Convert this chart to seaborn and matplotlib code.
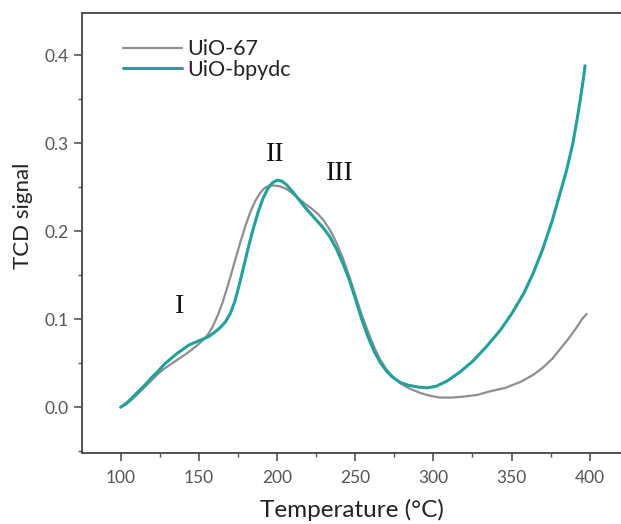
import matplotlib
matplotlib.use("Agg")
import matplotlib.pyplot as plt
import seaborn as sns
import pandas as pd
from matplotlib.ticker import MultipleLocator
from matplotlib.lines import Line2D

# Data
t_uio67 = [100, 104, 108, 112, 116, 120, 124, 128, 133, 138, 143, 148, 152, 156, 159, 162, 165, 168, 171, 174, 177, 180, 183, 186, 189, 192, 195, 198, 202, 206, 210, 214, 218, 222, 226, 230, 234, 238, 242, 246, 250, 254, 258, 262, 266, 270, 274, 279, 285, 292, 298, 304, 312, 319, 328, 336, 346, 356, 364, 370, 376, 381, 386, 391, 395, 398]
y_uio67 = [0.000, 0.004, 0.010, 0.017, 0.024, 0.031, 0.038, 0.044, 0.050, 0.056, 0.062, 0.069, 0.075, 0.083, 0.092, 0.104, 0.118, 0.135, 0.153, 0.172, 0.190, 0.207, 0.222, 0.234, 0.243, 0.249, 0.252, 0.252, 0.251, 0.248, 0.243, 0.237, 0.231, 0.226, 0.220, 0.212, 0.201, 0.187, 0.170, 0.150, 0.128, 0.106, 0.087, 0.069, 0.054, 0.043, 0.035, 0.027, 0.021, 0.016, 0.013, 0.011, 0.011, 0.012, 0.014, 0.018, 0.022, 0.029, 0.037, 0.045, 0.055, 0.066, 0.077, 0.089, 0.100, 0.106]
t_bpydc = [100, 104, 108, 112, 116, 120, 124, 128, 132, 136, 140, 144, 148, 152, 156, 160, 164, 167, 170, 173, 176, 179, 182, 185, 188, 191, 194, 197, 200, 203, 206, 210, 214, 218, 222, 226, 230, 234, 238, 242, 246, 250, 254, 258, 262, 266, 270, 274, 279, 284, 290, 296, 302, 309, 317, 325, 334, 343, 350, 358, 364, 370, 376, 381, 385, 389, 392, 394, 396, 397]
y_bpydc = [0.000, 0.005, 0.012, 0.019, 0.026, 0.034, 0.041, 0.049, 0.055, 0.061, 0.066, 0.071, 0.074, 0.077, 0.080, 0.085, 0.091, 0.097, 0.106, 0.120, 0.140, 0.162, 0.184, 0.204, 0.222, 0.237, 0.248, 0.255, 0.258, 0.257, 0.253, 0.245, 0.236, 0.227, 0.219, 0.211, 0.203, 0.193, 0.180, 0.164, 0.146, 0.124, 0.101, 0.081, 0.064, 0.051, 0.041, 0.034, 0.028, 0.025, 0.023, 0.022, 0.024, 0.030, 0.040, 0.052, 0.069, 0.088, 0.106, 0.130, 0.153, 0.180, 0.212, 0.243, 0.268, 0.298, 0.328, 0.350, 0.374, 0.388]

labels = ["UiO-67", "UiO-bpydc"]
colors = ["#8e8e8e", "#22a099"]
xticks = [100, 150, 200, 250, 300, 350, 400]
yticks = [0.0, 0.1, 0.2, 0.3, 0.4]
annotations = [("I", 137.5, 0.114), ("II", 198.7, 0.287), ("III", 239.9, 0.266)]

df = pd.concat([
    pd.DataFrame({"T": t_uio67, "S": y_uio67, "sample": labels[0]}),
    pd.DataFrame({"T": t_bpydc, "S": y_bpydc, "sample": labels[1]}),
])

sns.set_theme(style="ticks")
plt.rcParams["font.family"] = ["Lato", "DejaVu Sans"]

fig = plt.figure(figsize=(6.21, 5.24), dpi=100)
ax = fig.add_axes([82 / 621, 1 - 453 / 524, 1 - 82 / 621, (453 - 13) / 524])

sns.lineplot(data=df, x="T", y="S", hue="sample", palette=colors, sort=False,
             estimator=None, ax=ax, legend=False)
ax.lines[0].set_linewidth(1.6)
ax.lines[1].set_linewidth(2.2)

ax.set_xlim(75.3, 420)
ax.set_ylim(-0.052, 0.448)
ax.set_xticks(xticks)
ax.set_yticks(yticks)
ax.set_yticklabels([f"{v:.1f}" for v in yticks])
ax.xaxis.set_minor_locator(MultipleLocator(25))
ax.yaxis.set_minor_locator(MultipleLocator(0.05))
ax.tick_params(which="major", length=6, width=1.2, color="#555555", labelsize=12.5, labelcolor="#555555", direction="out")
ax.tick_params(which="minor", length=3, width=1.0, color="#555555", direction="out")
ax.tick_params(axis="x", which="major", pad=6.5)
ax.tick_params(axis="y", which="both", right=False)
ax.tick_params(axis="x", which="both", top=False)
for s in ["left", "bottom", "top"]:
    ax.spines[s].set_color("#444444")
    ax.spines[s].set_linewidth(1.3)
ax.spines["right"].set_visible(False)

ax.set_xlabel("Temperature (°C)", fontsize=17.5, color="#222222")
ax.set_ylabel("TCD signal", fontsize=16, color="#222222")
ax.xaxis.set_label_coords(0.5, -0.105)
ax.yaxis.set_label_coords(-0.09, 0.54)

for txt, x, y in annotations:
    ax.text(x, y, txt, fontsize=20, family="Liberation Serif", color="#111111",
            ha="center", va="center")

handles = [Line2D([], [], color=colors[0], lw=1.6), Line2D([], [], color=colors[1], lw=2.2)]
ax.legend(handles, labels, loc="upper left", bbox_to_anchor=(0.041, 0.984), frameon=False,
          fontsize=15.5, handlelength=2.7, handletextpad=0.25, labelspacing=0.02,
          labelcolor="#222222")

fig.savefig("out.png", dpi=100)
